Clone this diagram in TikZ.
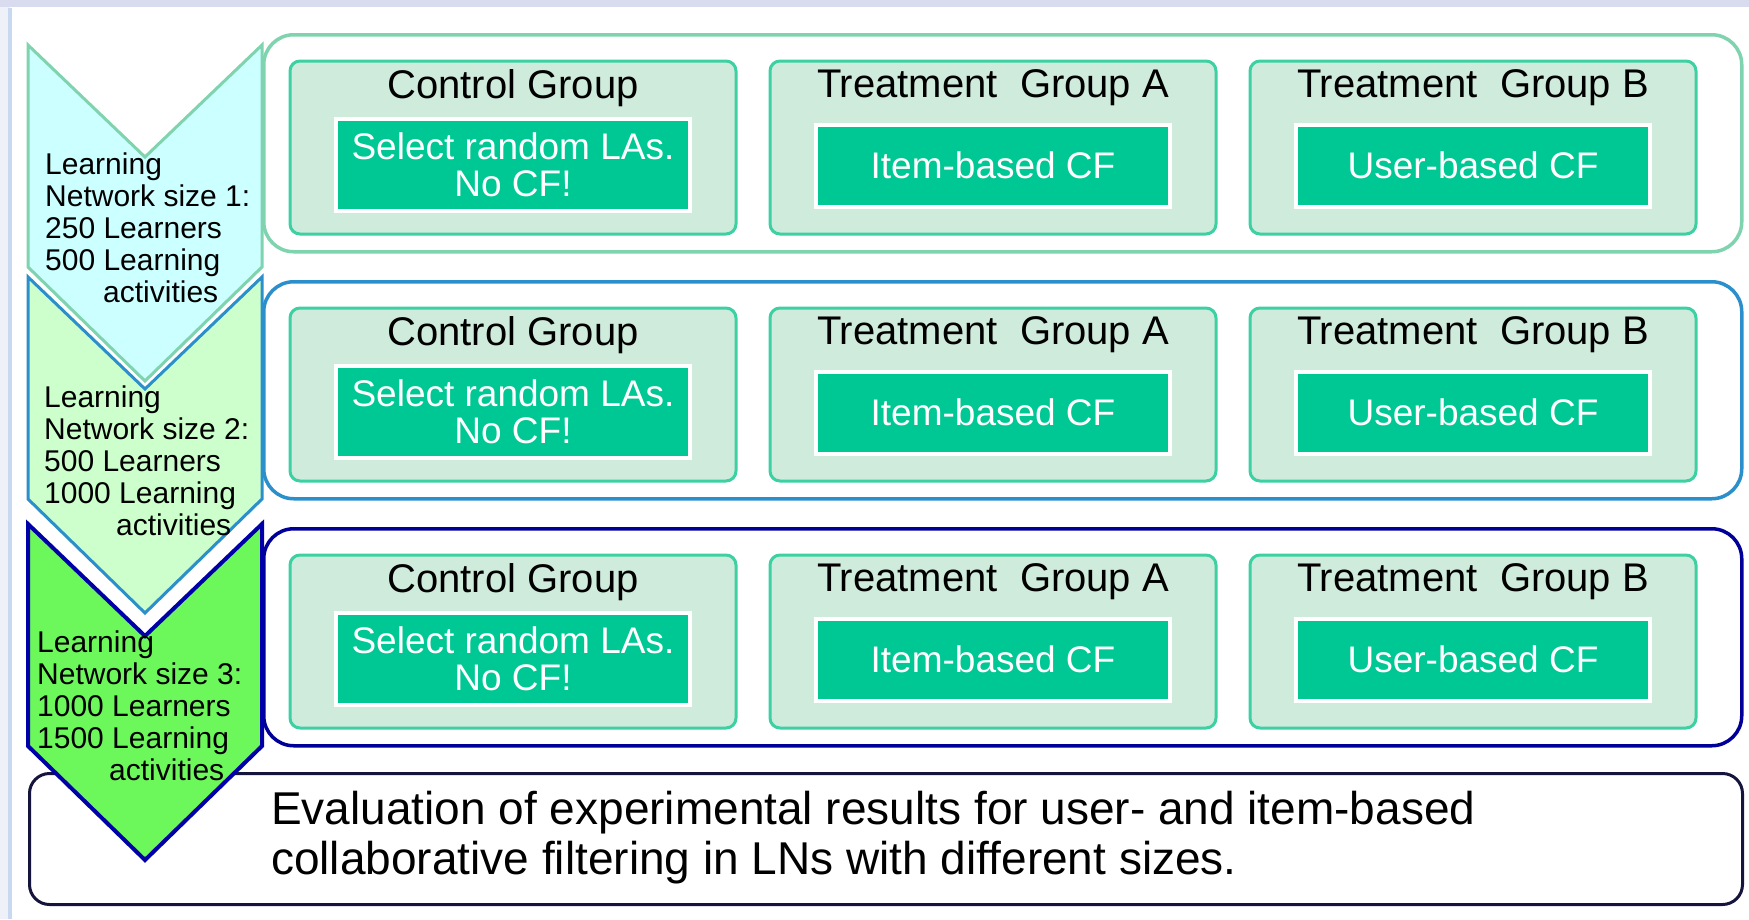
\documentclass[tikz,border=0pt]{standalone}
\usepackage{fontspec}
\setmainfont{Liberation Sans}
\usetikzlibrary{positioning}

\definecolor{rowone}{HTML}{7FD3AE}
\definecolor{rowtwo}{HTML}{2B8FCB}
\definecolor{rowthree}{HTML}{000099}
\definecolor{evaledge}{HTML}{14143C}
\definecolor{grpfill}{HTML}{CEEBDC}
\definecolor{grpedge}{HTML}{3DD0A2}
\definecolor{cfgreen}{HTML}{00C894}
\definecolor{chevonefill}{HTML}{CCFFFF}
\definecolor{chevtwofill}{HTML}{CCFFCC}
\definecolor{chevthreefill}{HTML}{6CF85A}
\definecolor{chevthreeedge}{HTML}{0000A8}
\definecolor{bgtop}{HTML}{D8DCEE}
\definecolor{bgside}{HTML}{EEF2F8}
\definecolor{bgline}{HTML}{C8D8F0}

\tikzset{
  rowbox/.style={line width=3.5pt,rounded corners=30pt,minimum width=1478pt,minimum height=217pt,anchor=north west},
  grpbox/.style={draw=grpedge,fill=grpfill,line width=3pt,rounded corners=10pt,minimum width=446pt,minimum height=173pt},
  grptitle/.style={font=\fontsize{40}{44}\selectfont,inner sep=0pt},
  cfbox/.style={draw=white,fill=cfgreen,line width=4pt,text=white,minimum width=354pt,align=center,font=\fontsize{37}{37}\selectfont},
  lntext/.style={anchor=north west,align=left,inner sep=0pt,font=\fontsize{30}{32}\selectfont},
  evalbox/.style={draw=evaledge,line width=3pt,rounded corners=20pt,minimum width=1713pt,minimum height=131pt,anchor=north west},
}

\begin{document}
\begin{tikzpicture}[x=1pt,y=-1pt]
  \useasboundingbox (0,0) rectangle (1749,919);
  \fill[white] (0,0) rectangle (1749,919);
  \fill[bgside] (0,0) rectangle (10,919);
  \fill[bgline] (8,8) rectangle (12,919);
  \fill[bgtop] (0,0) rectangle (1749,7);

  \foreach \r/\y/\rc in {1/0/rowone,2/247/rowtwo,3/494/rowthree}{
    \node[rowbox,draw=\rc] (row\r) at (262,{33+\y}) {};
    \node[grpbox] (ctrl\r) at (513,{147.5+\y}) {};
    \node[grpbox,right=31pt of ctrl\r] (grpA\r) {};
    \node[grpbox,right=31pt of grpA\r] (grpB\r) {};
    \node[grptitle,below=10pt of ctrl\r.north] (tc\r) {Control Group};
    \node[grptitle,below=10pt of grpA\r.north] (ta\r) {Treatment\ \ Group A};
    \node[grptitle,below=10pt of grpB\r.north] (tb\r) {Treatment\ \ Group B};
    \node[cfbox,minimum height=92pt,below=57pt of ctrl\r.north] (cfc\r) {Select random LAs.\\No CF!};
    \node[cfbox,minimum height=82pt,below=63pt of grpA\r.north] (cfa\r) {Item-based CF};
    \node[cfbox,minimum height=82pt,below=63pt of grpB\r.north] (cfb\r) {User-based CF};
  }

  \node[evalbox] (eval) at (28,772) {};
  \node[anchor=north west,align=left,inner sep=0pt,font=\fontsize{46}{50}\selectfont] (evaltxt) at (271,791)
    {Evaluation of experimental results for user- and item-based\\collaborative filtering in LNs with different sizes.};

  \draw[draw=rowone,fill=chevonefill,line width=3pt] (28,45) -- (145,157) -- (262,45) -- (262,267) -- (145,381) -- (28,267) -- cycle;
  \draw[draw=rowtwo,fill=chevtwofill,line width=3pt] (28,277) -- (145,389) -- (262,277) -- (262,499) -- (145,613) -- (28,499) -- cycle;
  \draw[draw=chevthreeedge,fill=chevthreefill,line width=4pt] (28,524) -- (145,636) -- (262,524) -- (262,746) -- (145,860) -- (28,746) -- cycle;

  \node[lntext] (ln1) at (45,153) {Learning\\Network size 1:\\250 Learners\\500 Learning\\\hspace*{58pt}activities};
  \node[lntext] (ln2) at (44,386) {Learning\\Network size 2:\\500 Learners\\1000 Learning\\\hspace*{72pt}activities};
  \node[lntext] (ln3) at (37,631) {Learning\\Network size 3:\\1000 Learners\\1500 Learning\\\hspace*{72pt}activities};
\end{tikzpicture}
\end{document}
